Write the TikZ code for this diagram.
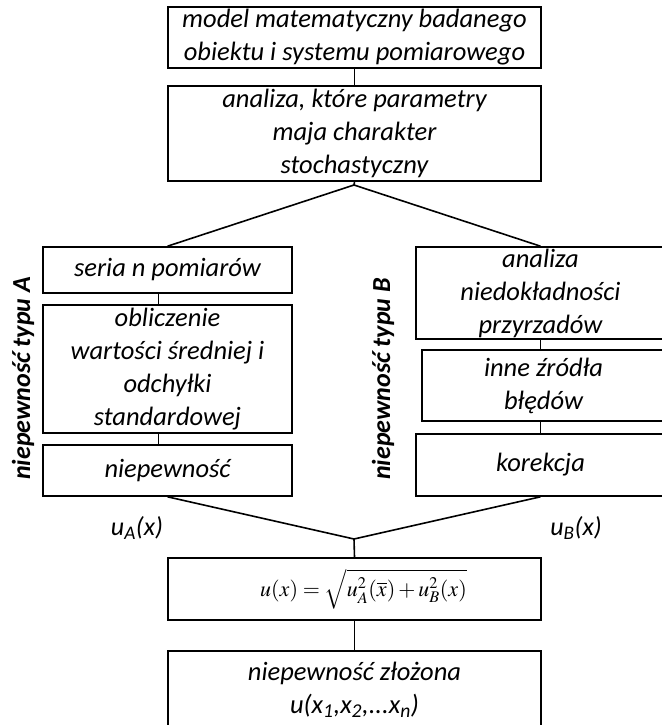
\documentclass[tikz,border=0pt]{standalone}
\usepackage{mathptmx}
\usepackage{fontspec}
\setmainfont{Carlito}
\begin{document}
\begin{tikzpicture}[x=1pt,y=-1pt,
    box/.style={draw=black, line width=1.6pt, rectangle, align=center, font=\itshape\fontsize{26.5}{33}\selectfont},
    wzorbox/.style={box, font=\fontsize{22}{26}\selectfont},
    side/.style={font=\bfseries\itshape\fontsize{26}{31}\selectfont, rotate=90, anchor=west},
    ulabel/.style={font=\itshape\fontsize{26}{31}\selectfont}]
    \tikzstyle{every node}+=[inner sep=0pt]
    \useasboundingbox (0,0) rectangle (661,725);
    \node [box, minimum width=373pt, minimum height=61pt] (model) at (354.5,37.5) {model matematyczny badanego\\obiektu i systemu pomiarowego};
    \node [box, minimum width=373pt, minimum height=95pt] (analiza) at (354.5,133.5) {analiza, które parametry\\maja charakter\\stochastyczny};
    \node [box, minimum width=249pt, minimum height=46pt] (seria) at (167.5,270) {seria n pomiarów};
    \node [box, minimum width=249pt, minimum height=128pt] (srednia) at (167.5,369) {obliczenie\\wartości średniej i\\odchyłki\\standardowej};
    \node [box, minimum width=249pt, minimum height=51pt] (niepA) at (167.5,470.5) {niepewność};
    \node [box, minimum width=249pt, minimum height=92pt] (przyrz) at (540.5,293) {analiza\\niedokładności\\przyrzadów};
    \node [box, minimum width=243pt, minimum height=71pt] (inne) at (543.5,385.5) {inne źródła\\błędów};
    \node [box, minimum width=249pt, minimum height=62pt] (korekcja) at (540.5,465) {korekcja};
    \node [wzorbox, minimum width=373pt, minimum height=62pt] (wzor) at (354.5,589) {\hspace*{18pt}$u(x)=\sqrt{u_A^2(\overline{x})+u_B^2(x)}$};
    \node [box, minimum width=373pt, minimum height=77pt] (zlozona) at (354.5,689.5) {niepewność złożona\\u(x\textsubscript{1},x\textsubscript{2},...x\textsubscript{n})};
    \node [side] (typA) at (23,480) {niepewność typu A};
    \node [side] (typB) at (383,480) {niepewność typu B};
    \node [ulabel] (uA) at (137,528) {u\textsubscript{A}(x)};
    \node [ulabel] (uB) at (576,528) {u\textsubscript{B}(x)};
    \coordinate (split) at (354,185);
    \coordinate (merge) at (354,539);
    \draw [black, line width=1.6pt] (model.south) -- (analiza.north);
    \draw [black, line width=1.6pt] (analiza.south) -- (split);
    \draw [black, line width=1.6pt] (seria.north) -- (split) -- (przyrz.north);
    \draw [black, line width=1.6pt] ([xshift=-9pt]seria.south) -- ([xshift=-9pt]srednia.north);
    \draw [black, line width=1.6pt] ([xshift=-9pt]srednia.south) -- ([xshift=-9pt]niepA.north);
    \draw [black, line width=1.6pt] (przyrz.south) -- (przyrz.south |- inne.north);
    \draw [black, line width=1.6pt] (korekcja.north |- inne.south) -- (korekcja.north);
    \draw [black, line width=1.6pt] (niepA.south) -- (merge) -- (korekcja.south);
    \draw [black, line width=1.6pt] (merge) -- (wzor.north);
    \draw [black, line width=1.6pt] (wzor.south) -- (zlozona.north);
\end{tikzpicture}
\end{document}
